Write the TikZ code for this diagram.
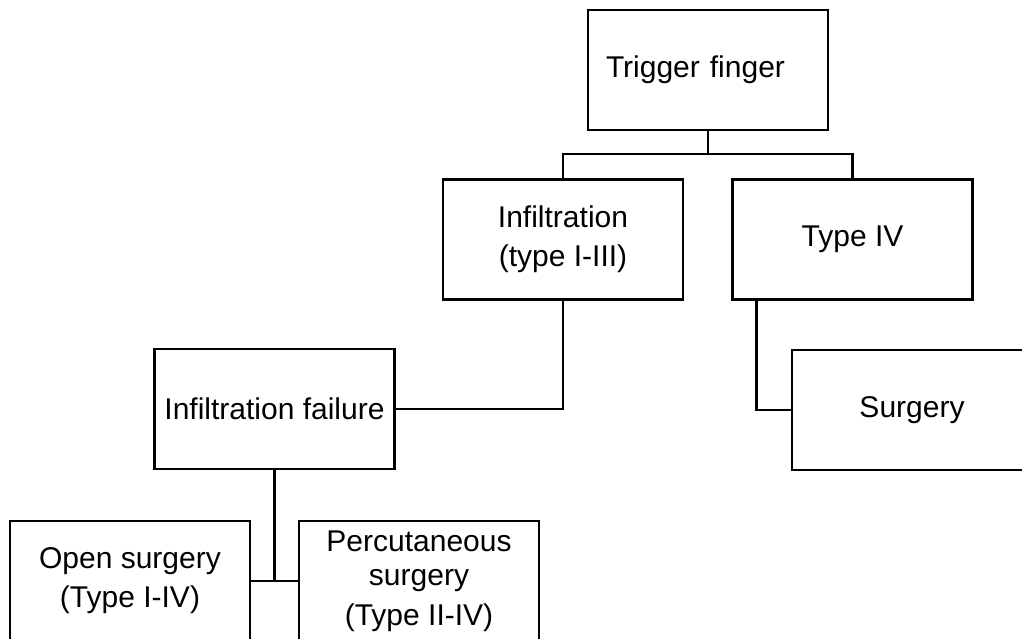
\documentclass[tikz,border=0pt]{standalone}
\usepackage{fontspec}
\setmainfont{Liberation Sans}
\usetikzlibrary{positioning}
\tikzset{
  flow box/.style={
    draw,
    line width=1.3pt,
    minimum width=120pt,
    minimum height=60pt,
    align=center,
    font=\fontsize{15}{19.5}\selectfont
  },
  flow line/.style={
    line width=1.3pt
  }
}
\begin{document}
\begin{tikzpicture}[x=0.5pt,y=-0.5pt]

  \clip (0,0) rectangle (1022,638);

  % root
  \node[flow box, align=left, text width=102pt, inner xsep=9pt] (trig) at (708,70) {Trigger finger};

  % first level
  \node[flow box] (infil) at (563,239.5) {Infiltration\\(type I-III)};
  \node[flow box] (typefour) at (852.5,239.5) {Type IV};

  % second level
  \node[flow box] (fail) at (274.5,409) {Infiltration failure};
  \node[flow box] (surg) at (912,410) {Surgery};

  % third level
  \node[flow box] (open) at (130,581) {Open surgery\\(Type I-IV)};
  \node[flow box, inner ysep=0pt] (perc) at (419,581) {Percutaneous\\[-2.5pt]surgery\\[0.5pt](Type II-IV)};

  % connectors
  \coordinate (split) at (708,154);
  \draw[flow line] (trig.south) -- (split);
  \draw[flow line] (infil.north) |- (split) -| (typefour.north);
  \draw[flow line] (infil.south) |- (fail.east);
  \draw[flow line] ([xshift=12.5pt]typefour.south west) |- (surg.west);
  \draw[flow line] (fail.south) -- (fail.south |- open.east);
  \draw[flow line] (open.east) -- (perc.west);

\end{tikzpicture}
\end{document}
